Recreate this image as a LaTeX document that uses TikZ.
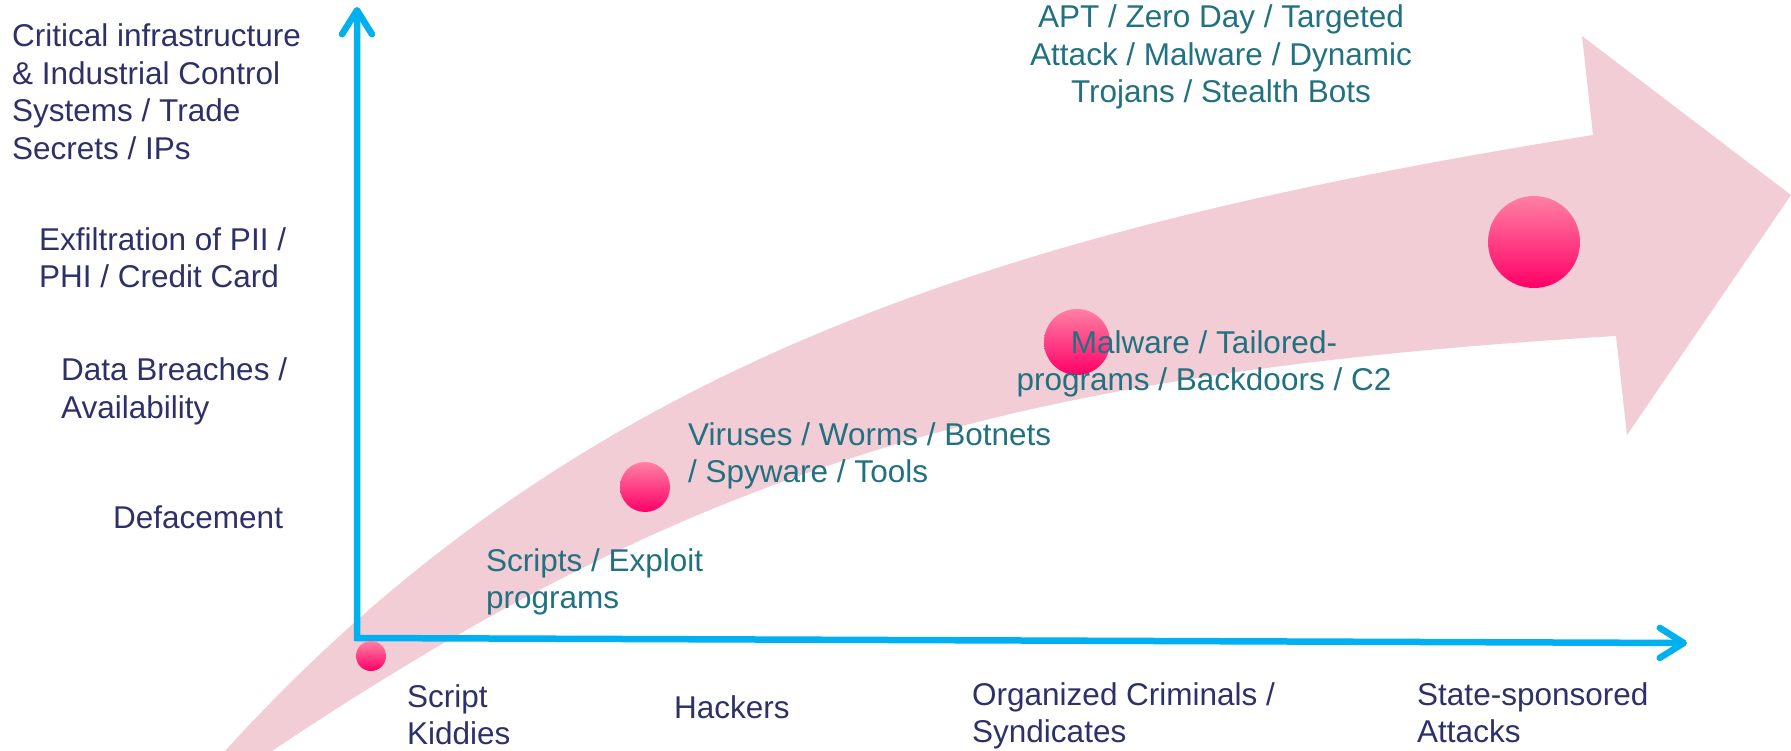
\documentclass[tikz,border=0pt]{standalone}
\usepackage{fontspec}
\setmainfont{Liberation Sans}
\usetikzlibrary{arrows.meta}
\definecolor{navy}{RGB}{46,48,104}
\definecolor{tealtxt}{RGB}{33,113,128}
\definecolor{axisblue}{RGB}{0,176,240}
\definecolor{pinkband}{RGB}{242,205,214}
\definecolor{dottop}{RGB}{255,128,164}
\definecolor{dotbot}{RGB}{255,0,102}
\tikzset{
  lbl/.style={inner sep=0pt, font=\fontsize{31.5}{37.5}\selectfont},
  ylab/.style={lbl, text=navy, align=left, anchor=base west},
  xlab/.style={lbl, text=navy, align=left, anchor=base west},
  tlab/.style={lbl, text=tealtxt, align=left, anchor=base west},
  tlabc/.style={lbl, text=tealtxt, align=center, anchor=base},
  dot/.style={circle, inner sep=0pt, minimum size=#1, top color=dottop, bottom color=dotbot, draw=none},
  axisline/.style={draw=axisblue, line width=6.5pt, line join=miter,
    {Straight Barb[length=24pt,width=30pt,line cap=round,line join=round]}-{Straight Barb[length=24pt,width=30pt,line cap=round,line join=round]}}
}
\begin{document}
\begin{tikzpicture}[x=1pt,y=-1pt]
\useasboundingbox (0,0) rectangle (1791,751);
\begin{scope}
\clip (0,0) rectangle (1791,751);
% big pink curved arrow
\fill[pinkband] (225,751) .. controls (575,366) and (993,231) .. (1593,135)
  -- (1582,36) -- (1791,195) -- (1627,435) -- (1616,336)
  .. controls (1016,372) and (702,463) .. (272,751)
  -- cycle;
\end{scope}
% axes
\coordinate (ytop) at (357,7);
\coordinate (O) at (357,638);
\coordinate (xend) at (1687,643);
\draw[axisline] (ytop) -- (O) -- (xend);
% dots
\node[dot=30pt] (d1) at (371,656) {};
\node[dot=50pt] (d2) at (645,487) {};
\node[dot=66pt] (d3) at (1077,342) {};
\node[dot=92pt] (d4) at (1534,242) {};
% y-axis labels (anchor = baseline of last line)
\node[ylab] (crit) at (12,159.5) {Critical infrastructure\\\& Industrial Control\\Systems / Trade\\Secrets / IPs};
\node[ylab] (exfil) at (39,288) {Exfiltration of PII /\\PHI / Credit Card};
\node[ylab] (breach) at (61,418) {Data Breaches /\\Availability};
\node[ylab] (deface) at (113,528) {Defacement};
% x-axis labels
\node[xlab] (kids) at (407,744.5) {Script\\Kiddies};
\node[xlab] (hack) at (674,718) {Hackers};
\node[xlab] (org) at (972,742.5) {Organized Criminals /\\Syndicates};
\node[xlab] (state) at (1417,742.5) {State-sponsored\\Attacks};
% attack labels
\node[tlab] (scripts) at (486,608.5) {Scripts / Exploit\\programs};
\node[tlab] (virus) at (688,482.5) {Viruses / Worms / Botnets\\/ Spyware / Tools};
\node[tlabc] (malw) at (1204,390.5) {Malware / Tailored-\\programs / Backdoors / C2};
\node[tlabc] (apt) at (1221,103) {APT / Zero Day / Targeted\\Attack / Malware / Dynamic\\Trojans / Stealth Bots};
\end{tikzpicture}
\end{document}
